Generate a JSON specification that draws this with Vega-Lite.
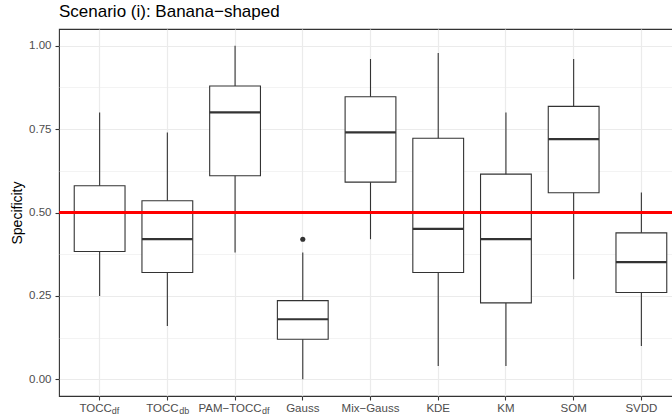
{
  "$schema": "https://vega.github.io/schema/vega-lite/v6.json",
  "width": 623,
  "height": 367,
  "autosize": {"type": "none"},
  "padding": {"left": 59, "top": 29, "right": 0, "bottom": 20},
  "background": "white",
  "title": {"text": "Scenario (i): Banana−shaped", "anchor": "start", "frame": "group", "font": "Liberation Sans", "fontSize": 17, "fontWeight": "normal", "color": "black", "baseline": "alphabetic", "offset": -5},
  "config": {
    "view": {"stroke": "#333333", "strokeWidth": 1.1},
    "axis": {"labelFont": "Liberation Sans", "titleFont": "Liberation Sans", "labelColor": "#4D4D4D", "labelFontSize": 11.5, "tickColor": "#333333", "tickSize": 4, "tickWidth": 1.1, "domain": false, "gridColor": "#EBEBEB", "titleFontWeight": "normal", "titleColor": "black", "titleFontSize": 14}
  },
  "datasets": {
    "stats": [
      {"method": "TOCC_df", "lower": 0.25, "q1": 0.383, "median": 0.50, "q3": 0.58, "upper": 0.80},
      {"method": "TOCC_db", "lower": 0.16, "q1": 0.32, "median": 0.42, "q3": 0.535, "upper": 0.74},
      {"method": "PAM−TOCC_df", "lower": 0.38, "q1": 0.61, "median": 0.80, "q3": 0.879, "upper": 1.0},
      {"method": "Gauss", "lower": 0.0, "q1": 0.12, "median": 0.18, "q3": 0.236, "upper": 0.38},
      {"method": "Mix−Gauss", "lower": 0.42, "q1": 0.591, "median": 0.74, "q3": 0.847, "upper": 0.96},
      {"method": "KDE", "lower": 0.04, "q1": 0.32, "median": 0.451, "q3": 0.7226, "upper": 0.978},
      {"method": "KM", "lower": 0.04, "q1": 0.229, "median": 0.42, "q3": 0.615, "upper": 0.80},
      {"method": "SOM", "lower": 0.30, "q1": 0.559, "median": 0.72, "q3": 0.818, "upper": 0.96},
      {"method": "SVDD", "lower": 0.10, "q1": 0.26, "median": 0.351, "q3": 0.439, "upper": 0.56}
    ],
    "outliers": [
      {"method": "Gauss", "value": 0.42}
    ]
  },
  "layer": [
    {
      "data": {"name": "stats"},
      "mark": {"type": "rule", "color": "#333333", "strokeWidth": 1.1},
      "encoding": {
        "x": {"field": "method", "type": "nominal", "sort": null,
          "scale": {"type": "band", "domain": ["TOCC_df", "TOCC_db", "PAM−TOCC_df", "Gauss", "Mix−Gauss", "KDE", "KM", "SOM", "SVDD"], "paddingInner": 0, "paddingOuter": 0.1},
          "axis": {"orient": "bottom", "title": null, "labelExpr": "split(datum.label,'_')[0]", "labelAngle": 0, "labelOverlap": false, "grid": true, "gridWidth": 1.2, "bandPosition": 0.5, "labelPadding": 11, "labelBaseline": "alphabetic",
            "labelOffset": {"condition": [{"test": "datum.value=='TOCC_df'", "value": -4}, {"test": "datum.value=='TOCC_db'", "value": -5}, {"test": "datum.value=='PAM−TOCC_df'", "value": -5}], "value": 0}}},
        "y": {"field": "lower", "type": "quantitative", "scale": {"domain": [-0.05, 1.05], "nice": false, "zero": false},
          "axis": {"orient": "left", "title": "Specificity", "values": [0, 0.25, 0.5, 0.75, 1], "format": ".2f", "grid": true, "gridWidth": 1.2, "labelPadding": 4, "titlePadding": 4}},
        "y2": {"field": "upper"}
      }
    },
    {
      "data": {"name": "stats"},
      "mark": {"type": "bar", "fill": "white", "stroke": "#333333", "strokeWidth": 1.1, "width": {"band": 0.75}},
      "encoding": {
        "x": {"field": "method", "type": "nominal", "sort": null, "scale": {"type": "band"},
          "axis": {"orient": "bottom", "title": null, "labelExpr": "indexof(datum.label,'_')>=0 ? split(datum.label,'_')[1] : ''", "labelFontSize": 9, "labelAlign": "left", "labelAngle": 0, "labelOverlap": false, "grid": false, "ticks": true, "tickOpacity": 0, "bandPosition": 0.5, "labelPadding": 13.5, "labelBaseline": "alphabetic",
            "labelOffset": {"condition": [{"test": "datum.value=='PAM−TOCC_df'", "value": 27}], "value": 12}}},
        "y": {"field": "q1", "type": "quantitative",
          "axis": {"orient": "left", "title": null, "values": [0.125, 0.375, 0.625, 0.875], "grid": true, "gridWidth": 0.6, "labels": false, "ticks": false}},
        "y2": {"field": "q3"}
      }
    },
    {
      "data": {"name": "stats"},
      "mark": {"type": "tick", "color": "#333333", "thickness": 2.2, "opacity": 1, "size": 50.8},
      "encoding": {
        "x": {"field": "method", "type": "nominal", "sort": null, "scale": {"type": "band"}, "axis": null},
        "y": {"field": "median", "type": "quantitative", "axis": null}
      }
    },
    {
      "data": {"name": "outliers"},
      "mark": {"type": "point", "filled": true, "color": "#333333", "size": 26, "opacity": 1},
      "encoding": {
        "x": {"field": "method", "type": "nominal", "sort": null, "scale": {"type": "band"}, "axis": null},
        "y": {"field": "value", "type": "quantitative", "axis": null}
      }
    },
    {
      "data": {"values": [{}]},
      "mark": {"type": "rule", "color": "#FF0000", "strokeWidth": 3},
      "encoding": {
        "y": {"datum": 0.5, "type": "quantitative", "axis": null}
      }
    }
  ],
  "resolve": {"axis": {"x": "independent", "y": "independent"}}
}
